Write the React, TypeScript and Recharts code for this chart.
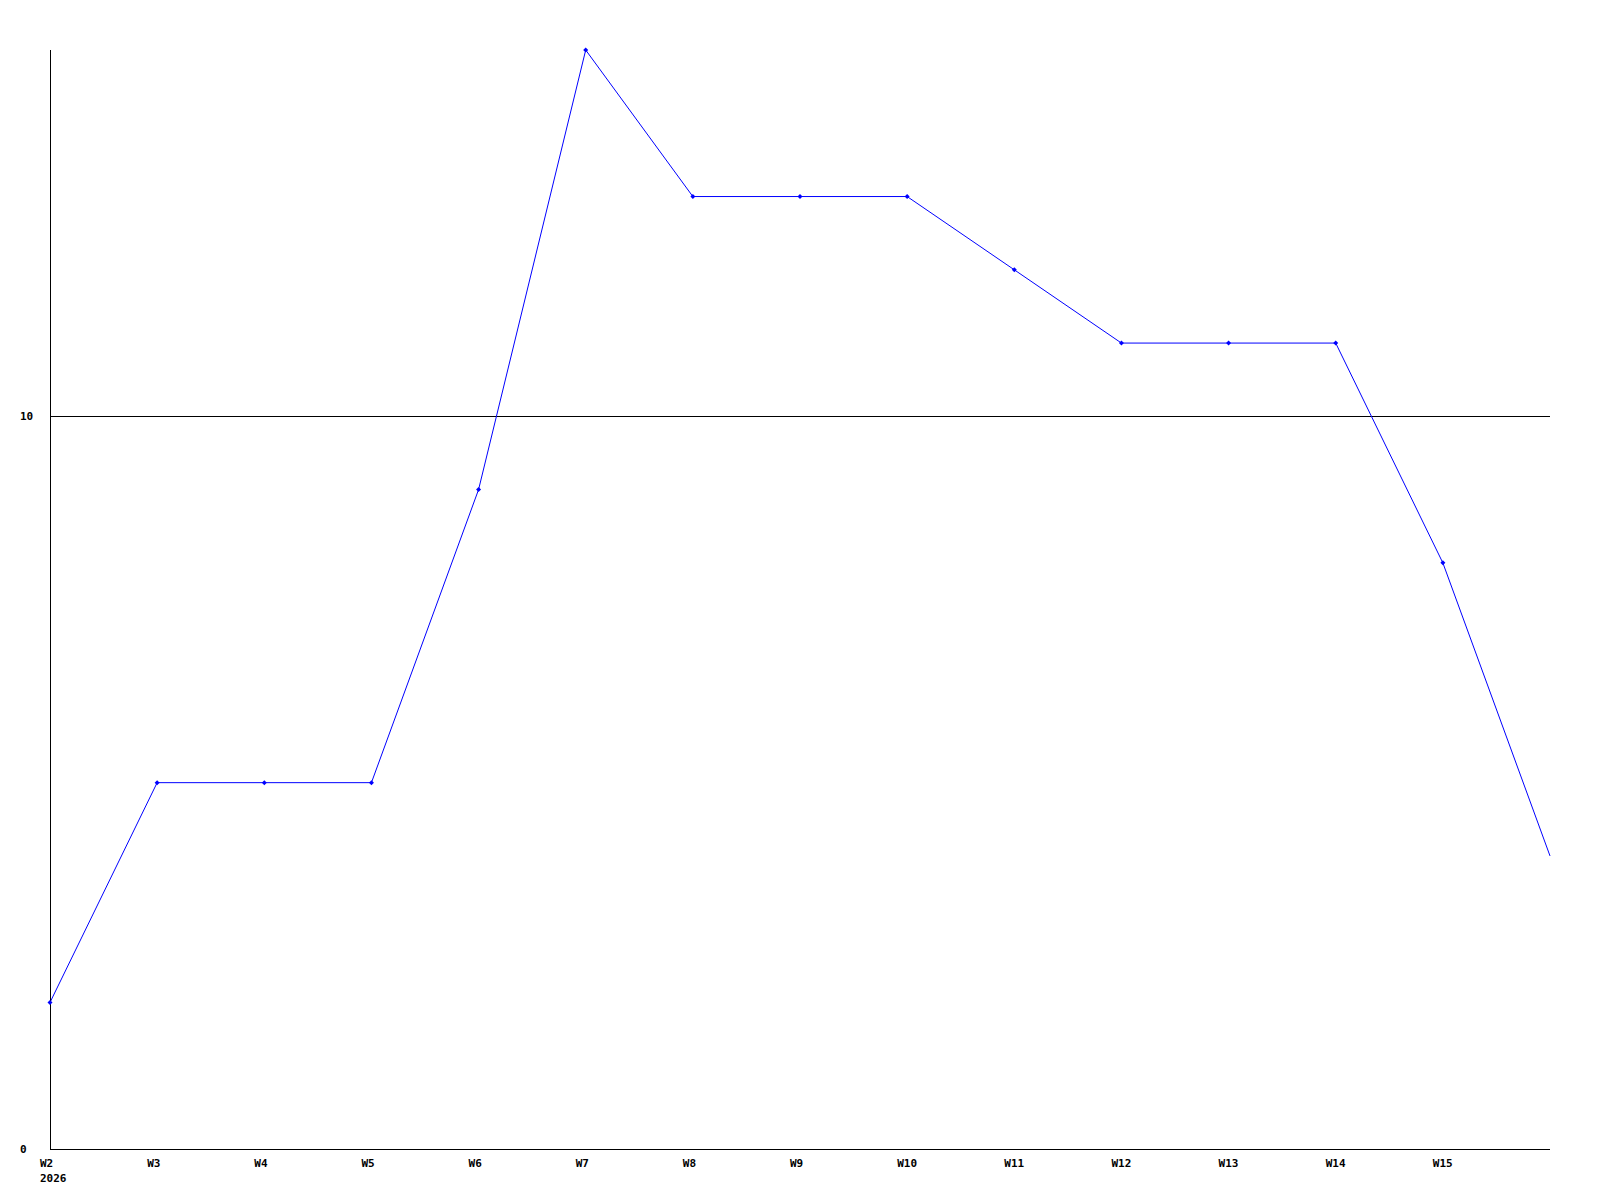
import { LineChart, Line, XAxis, YAxis, ReferenceLine } from 'recharts'

const weeks = ['W2', 'W3', 'W4', 'W5', 'W6', 'W7', 'W8', 'W9', 'W10', 'W11', 'W12', 'W13', 'W14', 'W15', 'W16']
const counts = [2, 5, 5, 5, 9, 15, 13, 13, 13, 12, 11, 11, 11, 8, 4]
const labels = ['W2', 'W3', 'W4', 'W5', 'W6', 'W7', 'W8', 'W9', 'W10', 'W11', 'W12', 'W13', 'W14', 'W15', '']
const yearLabel = '2026'
const yTicks = [0, 10]

const data = weeks.map((w, i) => ({ week: w, label: labels[i], value: counts[i] }))

const font = '"DejaVu Sans Mono", monospace'

const XTick = (props: any) => {
  const { x, y, index } = props
  const text = labels[index]
  if (!text) return null
  return (
    <g>
      <text x={x - 10} y={y + 10} textAnchor="start" fontFamily={font} fontWeight="bold" fontSize={11} fill="#000">{text}</text>
      {index === 0 && (
        <text x={x - 10} y={y + 25} textAnchor="start" fontFamily={font} fontWeight="bold" fontSize={11} fill="#000">{yearLabel}</text>
      )}
    </g>
  )
}

const YTick = (props: any) => {
  const { y, payload } = props
  return (
    <text x={20} y={y + 4} textAnchor="start" fontFamily={font} fontWeight="bold" fontSize={11} fill="#000">{payload.value}</text>
  )
}

const Diamond = (props: any) => {
  const { cx, cy, index } = props
  if (index === data.length - 1 || cx == null) return <g key={index} />
  return <polygon key={index} points={`${cx},${cy - 2.5} ${cx + 2.5},${cy} ${cx},${cy + 2.5} ${cx - 2.5},${cy}`} fill="#0000ff" />
}

export default function App() {
  return (
    <div style={{ position: 'absolute', left: 0, top: 0, background: '#fff' }}>
      <LineChart width={1600} height={1200} data={data} margin={{ top: 50, right: 50, bottom: 11, left: 0 }}>
        <XAxis dataKey="week" height={40} padding={{ left: 0, right: 0 }} interval={0}
          axisLine={{ stroke: '#000', shapeRendering: 'crispEdges' }} tickLine={false} tick={<XTick />} />
        <YAxis width={50} domain={[0, 15]} ticks={yTicks} axisLine={{ stroke: '#000', shapeRendering: 'crispEdges' }} tickLine={false} tick={<YTick />} />
        <ReferenceLine y={10} stroke="#000" strokeWidth={1} shapeRendering="crispEdges" />
        <Line type="linear" dataKey="value" stroke="#0000ff" strokeWidth={1} dot={<Diamond />} activeDot={false} isAnimationActive={false} />
      </LineChart>
    </div>
  )
}
